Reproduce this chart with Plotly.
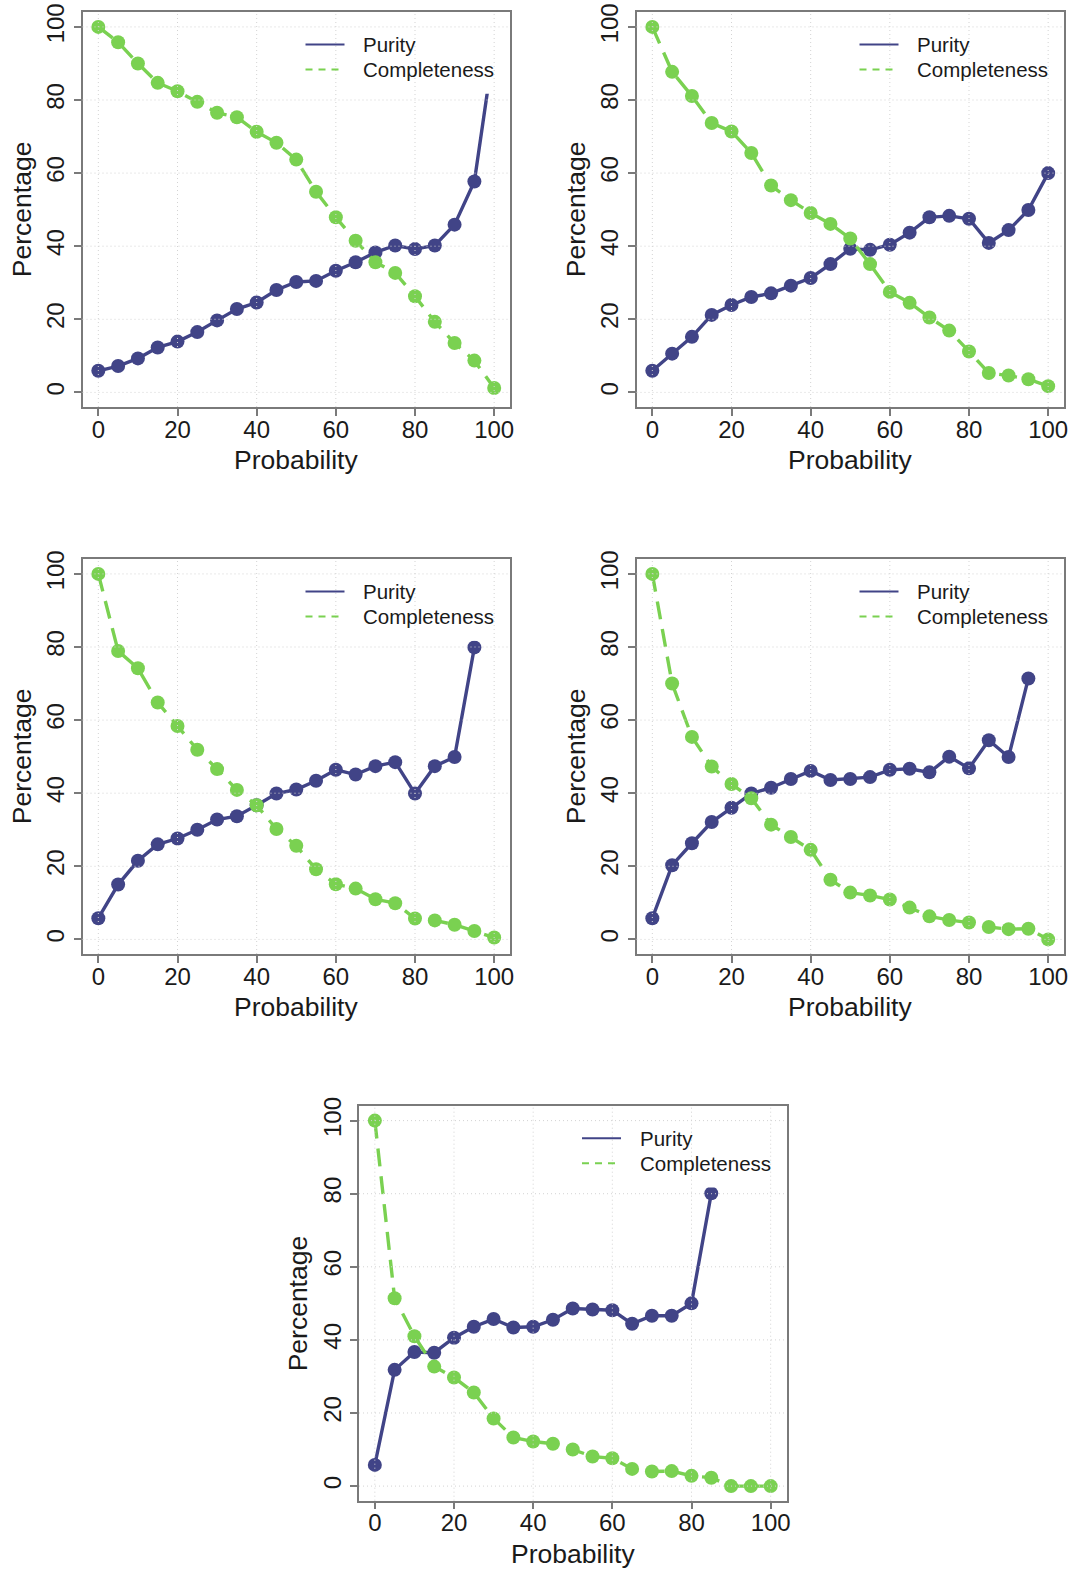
import plotly.graph_objects as go

# Figure size in pixels
W, H = 1076, 1571

# Probability thresholds (%) shared by all panels
prob = [0, 5, 10, 15, 20, 25, 30, 35, 40, 45, 50, 55, 60, 65, 70, 75, 80, 85, 90, 95, 100]

# Purity / completeness curves (%) for each of the five samples
purity_1 = [5.9, 7.2, 9.3, 12.3, 13.9, 16.5, 19.7, 22.8, 24.6, 28.0, 30.2, 30.5, 33.3,
            35.6, 38.3, 40.2, 39.2, 40.2, 45.9, 57.7, 95.0]
completeness_1 = [100, 95.8, 90.0, 84.7, 82.4, 79.5, 76.5, 75.3, 71.3, 68.3, 63.7, 54.9,
                  47.9, 41.5, 35.6, 32.7, 26.3, 19.3, 13.5, 8.7, 1.2]

purity_2 = [5.9, 10.6, 15.2, 21.2, 23.9, 26.1, 27.1, 29.2, 31.3, 35.1, 39.3, 39.0, 40.4,
            43.7, 47.9, 48.3, 47.5, 40.9, 44.4, 49.9, 60.0]
completeness_2 = [100, 87.7, 81.1, 73.7, 71.4, 65.5, 56.6, 52.6, 49.1, 46.1, 42.1, 35.1,
                  27.5, 24.5, 20.5, 16.9, 11.2, 5.3, 4.6, 3.6, 1.7]

purity_3 = [5.8, 15.0, 21.5, 26.0, 27.6, 30.0, 32.8, 33.7, 36.7, 39.9, 41.0, 43.4, 46.4,
            45.1, 47.4, 48.5, 39.9, 47.4, 49.9, 79.9, None]
completeness_3 = [100, 78.9, 74.2, 64.8, 58.4, 51.9, 46.6, 40.9, 36.7, 30.2, 25.6, 19.2,
                  15.1, 13.9, 11.0, 9.9, 5.7, 5.2, 4.0, 2.3, 0.5]

purity_4 = [5.8, 20.3, 26.3, 32.1, 36.0, 39.9, 41.5, 43.9, 46.1, 43.6, 43.9, 44.4, 46.4,
            46.7, 45.7, 50.0, 46.8, 54.5, 49.9, 71.4, None]
completeness_4 = [100, 70.0, 55.4, 47.3, 42.5, 38.6, 31.4, 28.0, 24.5, 16.3, 12.8, 12.0,
                  10.9, 8.7, 6.3, 5.3, 4.6, 3.4, 2.8, 2.9, 0.0]

purity_5 = [5.8, 31.8, 36.7, 36.5, 40.6, 43.6, 45.7, 43.4, 43.6, 45.5, 48.6, 48.3, 48.1,
            44.4, 46.6, 46.6, 50.0, 80.1, None, None, None]
completeness_5 = [100, 51.4, 41.0, 32.7, 29.7, 25.6, 18.5, 13.3, 12.2, 11.6, 10.0, 8.1,
                  7.6, 4.7, 4.0, 4.1, 2.8, 2.3, 0.0, 0.0, 0.0]

purity_sets = [purity_1, purity_2, purity_3, purity_4, purity_5]
completeness_sets = [completeness_1, completeness_2, completeness_3, completeness_4, completeness_5]

tick_vals = [0, 20, 40, 60, 80, 100]
tick_text = ["0", "20", "40", "60", "80", "100"]
series_names = ["Purity", "Completeness"]
x_title = "Probability"
y_title = "Percentage"

# Styling
PURITY_COLOR = "#414487"
COMPLETE_COLOR = "#7AD151"
FRAME_COLOR = "#7a7a7a"
GRID_COLOR = "#d3d3d3"
TEXT_COLOR = "#1a1a1a"
FONT = "Liberation Sans"
AX_RANGE = [-4, 104]

# Panel frames: (left, top) in pixels, common width/height
frames = [(82.5, 12.3), (636.5, 12.3), (82.5, 559.3), (636.5, 559.3), (359.0, 1106.0)]
FW, FH = 427.5, 394.7


def fx(px):
    return px / W


def fy(py):
    return 1 - py / H


fig = go.Figure()
shapes = []
annotations = []

for i, (left, top) in enumerate(frames):
    n = "" if i == 0 else str(i + 1)
    xa, ya = "x" + n, "y" + n

    fig.add_trace(go.Scatter(
        x=prob, y=purity_sets[i], xaxis=xa, yaxis=ya, mode="lines+markers",
        line=dict(color=PURITY_COLOR, width=3.4),
        marker=dict(color=PURITY_COLOR, size=14),
        showlegend=False, cliponaxis=True, connectgaps=False))
    fig.add_trace(go.Scatter(
        x=prob, y=completeness_sets[i], xaxis=xa, yaxis=ya, mode="lines+markers",
        line=dict(color=COMPLETE_COLOR, width=3.4, dash="18px,10px"),
        marker=dict(color=COMPLETE_COLOR, size=14),
        showlegend=False, cliponaxis=True))

    axis_common = dict(
        range=AX_RANGE, showgrid=False, zeroline=False, automargin=False,
        showline=True, mirror=True, linecolor=FRAME_COLOR, linewidth=1.5,
        ticks="outside", ticklen=7, tickwidth=1.5, tickcolor=FRAME_COLOR,
        tickvals=tick_vals, ticktext=tick_text,
        tickfont=dict(family=FONT, size=24, color=TEXT_COLOR),
        fixedrange=True,
    )
    fig.update_layout(**{
        "xaxis" + n: dict(axis_common, domain=[fx(left), fx(left + FW)], anchor=ya,
                          ticklabelstandoff=-7),
        "yaxis" + n: dict(axis_common, domain=[fy(top + FH), fy(top)], anchor=xa,
                          tickangle=-90, ticklabelstandoff=0),
    })

    # legend background box (opaque, borderless) in the top-right corner
    shapes.append(dict(type="rect", layer="above", xref="paper", yref="paper",
                       x0=fx(left + 208), x1=fx(left + FW - 1), y0=fy(top + 81.5), y1=fy(top + 1),
                       fillcolor="white", line=dict(width=0)))

    # dotted grid drawn on top of everything
    for v in tick_vals:
        shapes.append(dict(type="line", layer="above", xref=xa, yref=ya + " domain",
                           x0=v, x1=v, y0=0, y1=1,
                           line=dict(color=GRID_COLOR, width=1, dash="1px,3px")))
        shapes.append(dict(type="line", layer="above", xref=xa + " domain", yref=ya,
                           x0=0, x1=1, y0=v, y1=v,
                           line=dict(color=GRID_COLOR, width=1, dash="1px,3px")))

    # legend keys
    for k, (name, color, dash, dy) in enumerate([
            (series_names[0], PURITY_COLOR, "solid", 32.3),
            (series_names[1], COMPLETE_COLOR, "7px,6px", 57.3)]):
        shapes.append(dict(type="line", layer="above", xref="paper", yref="paper",
                           x0=fx(left + 223), x1=fx(left + 262),
                           y0=fy(top + dy), y1=fy(top + dy),
                           line=dict(color=color, width=2, dash=dash)))
        annotations.append(dict(text=name, xref="paper", yref="paper",
                                x=fx(left + 278.5), y=fy(top + dy), xanchor="left",
                                yanchor="middle", showarrow=False,
                                font=dict(family=FONT, size=20.5, color=TEXT_COLOR)))

    # axis titles
    annotations.append(dict(text=x_title, xref="paper", yref="paper",
                            x=fx(left + FW / 2), y=fy(top + 447.5), xanchor="center",
                            yanchor="middle", showarrow=False,
                            font=dict(family=FONT, size=26.5, color=TEXT_COLOR)))
    annotations.append(dict(text=y_title, xref="paper", yref="paper",
                            x=fx(left - 61), y=fy(top + FH / 2), xanchor="center",
                            yanchor="middle", textangle=-90, showarrow=False,
                            font=dict(family=FONT, size=26.5, color=TEXT_COLOR)))

fig.update_layout(
    width=W, height=H,
    margin=dict(l=0, r=0, t=0, b=0, autoexpand=False),
    paper_bgcolor="white", plot_bgcolor="white",
    shapes=shapes, annotations=annotations,
    showlegend=False,
    font=dict(family=FONT, color=TEXT_COLOR),
)

fig.write_html("out.html", config={"displayModeBar": False})
